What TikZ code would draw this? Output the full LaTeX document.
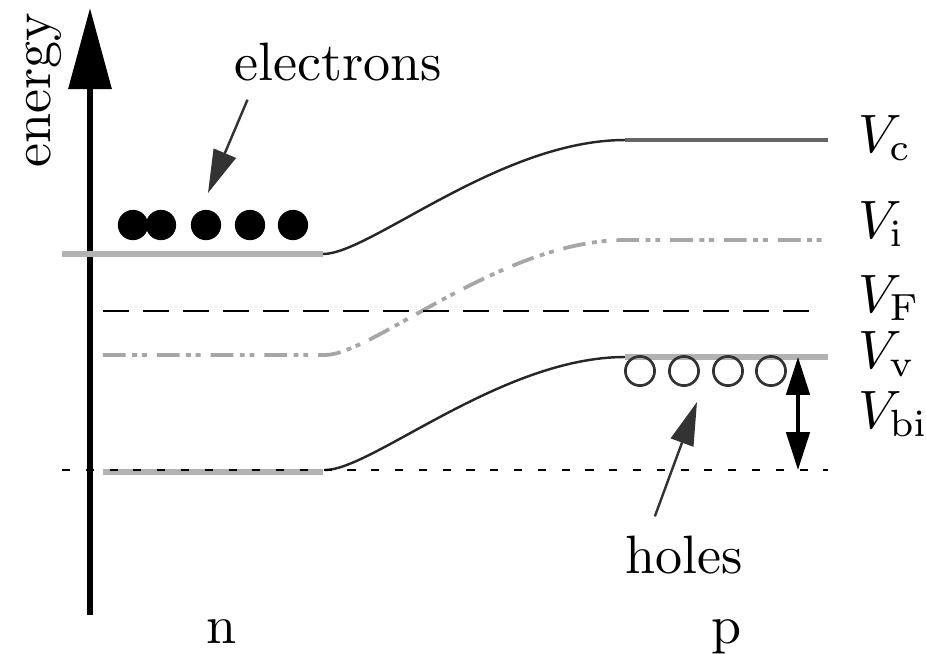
\documentclass[tikz,border=0pt]{standalone}
\usepackage{tikz}
\usetikzlibrary{arrows.meta, positioning}
\usepackage{amsmath}

\begin{document}
\begin{tikzpicture}[
        x=0.65cm, y=0.65cm,
        axis/.style     ={line width=1.1pt, -{Triangle[length=15pt,width=7.8pt]}},
        band/.style     ={draw=gray!60, line width=1.1pt},
        bent/.style     ={draw=black!85, line width=0.45pt},
        flat/.style     ={draw=black!60, line width=0.6pt},
        intrinsic/.style={draw=gray!70, line width=0.7pt,
                          dash pattern=on 4.2pt off 1.2pt on 0.9pt off 0.9pt on 0.9pt off 1.85pt},
        fermi/.style    ={draw=black, line width=0.5pt, dash pattern=on 4.8pt off 2.6pt},
        refline/.style  ={draw=black, line width=0.5pt, dash pattern=on 1.5pt off 2.9pt},
        electron/.style ={circle, fill=black, inner sep=0pt, minimum size=5.6pt},
        hole/.style     ={circle, draw=black!80, line width=0.5pt, inner sep=0pt, minimum size=5.4pt},
        pointer/.style  ={draw=black!80, line width=0.45pt, -{Triangle[length=8pt,width=4.4pt]}},
        level/.style    ={anchor=base west, inner sep=0pt}
    ]
    \useasboundingbox (0,0) rectangle (9.26,6.53);

    % --- energy axis ---
    \draw[axis] (0.90,0.38) -- (0.90,6.45);
    \node[rotate=90] (energy) at (0.44,5.63) {energy};

    % --- bands ---
    \draw[band] (0.62,3.99) -- (3.23,3.99);
    \draw[bent] (3.23,3.99) .. controls (3.70,3.99) and (5.00,5.13) .. (6.25,5.13);
    \draw[flat] (6.25,5.13) -- (8.28,5.13);

    \draw[intrinsic] (1.03,2.98) -- (3.25,2.98)
        .. controls (3.72,2.98) and (5.02,4.13) .. (6.25,4.13) -- (8.28,4.13);

    \draw[fermi] (1.03,3.42) -- (8.20,3.42);

    \draw[band] (1.03,1.81) -- (3.23,1.81);
    \draw[bent] (3.25,1.83) .. controls (3.72,1.83) and (5.02,2.96) .. (6.25,2.96);
    \draw[band] (6.25,2.96) -- (8.28,2.96);

    \draw[refline] (0.62,1.83) -- (8.28,1.83);

    % --- carriers ---
    \foreach \x [count=\i] in {1.33,1.61,2.06,2.50,2.93}
        \node[electron] (e\i) at (\x,4.28) {};
    \foreach \x [count=\i] in {6.40,6.84,7.28,7.71}
        \node[hole] (h\i) at (\x,2.82) {};

    \node[anchor=base] (elabel) at (3.38,5.73) {electrons};
    \node[anchor=base] (hlabel) at (6.84,0.80) {holes};
    \coordinate (etip) at (2.08,4.60);
    \coordinate (htip) at (6.97,2.51);
    \draw[pointer] ([xshift=6pt]elabel.south west) -- (etip);
    \draw[pointer] ([xshift=9pt]hlabel.north west) -- (htip);

    % --- built-in voltage ---
    \coordinate (vbtop) at (7.98,2.96);
    \coordinate (vbbot) at (7.98,1.83);
    \draw[line width=0.7pt, {Triangle[length=7pt,width=4.3pt]}-{Triangle[length=7pt,width=4.3pt]}]
        (vbtop) -- (vbbot);

    % --- labels ---
    \node[level] (vc)  at (8.57,5.01) {$V_\mathrm{c}$};
    \node[level] (vi)  at (8.57,4.15) {$V_\mathrm{i}$};
    \node[level] (vf)  at (8.57,3.41) {$V_\mathrm{F}$};
    \node[level] (vv)  at (8.57,2.85) {$V_\mathrm{v}$};
    \node[level] (vbi) at (8.57,2.25) {$V_\mathrm{bi}$};

    \node[anchor=base] (nside) at (2.22,0.10) {n};
    \node[anchor=base] (pside) at (7.27,0.10) {p};

\end{tikzpicture}
\end{document}
